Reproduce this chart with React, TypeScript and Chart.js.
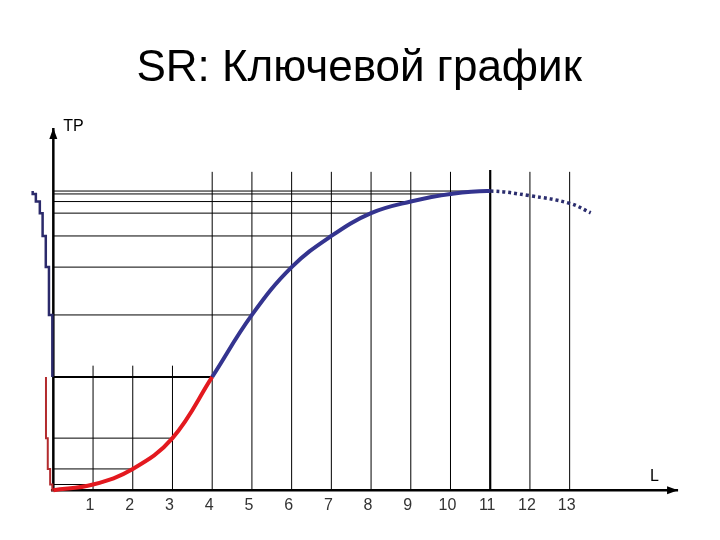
import React, { useEffect, useRef } from "react";
import { Chart, registerables } from "chart.js";

Chart.register(...registerables);

// ---- text ----
const TITLE = "SR: Ключевой график";
const Y_LABEL = "TP";
const X_LABEL = "L";

// ---- data ----
const L_VALUES = [0, 1, 2, 3, 4, 5, 6, 7, 8, 9, 10, 11];
const TP_VALUES = [0, 1.6, 5.9, 14.4, 31.3, 48.4, 61.6, 70.2, 76.5, 79.7, 81.8, 82.6];
const L_FALLING = [12, 13, 13.53];
const TP_FALLING = [81.3, 79.2, 76.6];
const L_TICKS = [1, 2, 3, 4, 5, 6, 7, 8, 9, 10, 11, 12, 13];
const GUIDE_TOPS = [34.4, 34.4, 34.4, 87.9, 87.9, 87.9, 87.9, 87.9, 87.9, 87.9, 88.4, 87.9, 87.9];
const STAIR_BLUE_X = [-0.52, -0.44, -0.34, -0.27, -0.19, -0.11, -0.025];
const STAIR_RED_X = [-0.185, -0.14, -0.08, -0.025];
const SWITCH_L = 4;
const PEAK_L = 11;
const X_MIN = -0.6;
const X_MAX = 16;
const Y_MAX = 100;
const X_AXIS_END = 15.73;
const X_LABEL_AT = 15.02;

// ---- styles ----
const RED = "#e3191f";
const BLUE = "#34348f";
const DOT_BLUE = "#2b2d6e";
const STAIR_BLUE = "#2b2a6b";
const STAIR_RED = "#b32b2e";
const FONT = '"Liberation Sans", Arial, sans-serif';

function buildCurve() {
  const pts = L_VALUES.map((l, i) => ({ x: l, y: TP_VALUES[i] }));
  L_FALLING.forEach((l, i) => pts.push({ x: l, y: TP_FALLING[i] }));
  return pts;
}

function buildVerticals() {
  const pts: any[] = [];
  L_TICKS.forEach((l, i) => {
    pts.push({ x: l, y: 0 }, { x: l, y: GUIDE_TOPS[i] }, { x: l, y: null });
  });
  return pts;
}

function buildHorizontals() {
  const pts: any[] = [];
  L_VALUES.forEach((l, i) => {
    if (l === 0) return;
    pts.push({ x: 0, y: TP_VALUES[i] }, { x: l, y: TP_VALUES[i] }, { x: l, y: null });
  });
  return pts;
}

function buildStair(xs: number[], levels: number[], closeAtOrigin: boolean) {
  const pts: any[] = [];
  xs.forEach((sx, i) => {
    pts.push({ x: sx, y: levels[i] }, { x: sx, y: levels[i + 1] });
  });
  if (closeAtOrigin) pts.push({ x: 0, y: 0 });
  return pts;
}

const blueLevels = TP_VALUES.slice(SWITCH_L).reverse();
const redLevels = TP_VALUES.slice(0, SWITCH_L + 1).reverse();

const decor = {
  id: "decor",
  afterDatasetsDraw(chart: any) {
    const { ctx, scales } = chart;
    const x = scales.x;
    const y = scales.y;
    const ox = x.getPixelForValue(0);
    const oy = y.getPixelForValue(0);
    const topY = y.getPixelForValue(Y_MAX);
    const endX = x.getPixelForValue(X_AXIS_END);
    ctx.save();
    ctx.fillStyle = "#000";
    ctx.beginPath();
    ctx.moveTo(ox, topY);
    ctx.lineTo(ox - 4, topY + 11);
    ctx.lineTo(ox + 4, topY + 11);
    ctx.closePath();
    ctx.fill();
    ctx.beginPath();
    ctx.moveTo(endX, oy);
    ctx.lineTo(endX - 11, oy - 4);
    ctx.lineTo(endX - 11, oy + 4);
    ctx.closePath();
    ctx.fill();
    ctx.font = "16px " + FONT;
    ctx.textBaseline = "alphabetic";
    ctx.textAlign = "left";
    ctx.fillText(Y_LABEL, ox + 10, topY + 3);
    ctx.fillText(X_LABEL, x.getPixelForValue(X_LABEL_AT), oy - 9);
    ctx.restore();
  },
};

export default function App() {
  const ref = useRef<HTMLCanvasElement>(null);
  useEffect(() => {
    document.body.style.margin = "0";
    const chart = new Chart(ref.current as HTMLCanvasElement, {
      type: "line",
      data: {
        datasets: [
          {
            label: "TP",
            data: buildCurve(),
            tension: 0.4,
            borderWidth: 4,
            borderColor: BLUE,
            clip: false,
            segment: {
              borderColor: (c: any) =>
                c.p0.parsed.x >= PEAK_L ? DOT_BLUE : c.p0.parsed.x >= SWITCH_L ? BLUE : RED,
              borderDash: (c: any) => (c.p0.parsed.x >= PEAK_L ? [3, 3] : undefined),
              borderWidth: (c: any) => (c.p0.parsed.x >= PEAK_L ? 3.5 : undefined),
            },
          } as any,
          {
            label: "stairBlue",
            data: buildStair(STAIR_BLUE_X, blueLevels, false),
            borderColor: STAIR_BLUE,
            borderWidth: 2.5,
            clip: false,
          },
          {
            label: "stairRed",
            data: buildStair(STAIR_RED_X, redLevels, true),
            borderColor: STAIR_RED,
            borderWidth: 2,
            clip: false,
          },
          {
            label: "axisY",
            data: [{ x: 0, y: 0 }, { x: 0, y: Y_MAX }],
            borderColor: "#000",
            borderWidth: 2.5,
            clip: false,
          },
          {
            label: "axisX",
            data: [{ x: -0.06, y: 0 }, { x: X_AXIS_END, y: 0 }],
            borderColor: "#000",
            borderWidth: 2.5,
            clip: false,
          },
          {
            label: "hLines",
            data: buildHorizontals(),
            borderColor: "#000",
            borderWidth: 1,
            clip: false,
            segment: {
              borderWidth: (c: any) => (c.p0.parsed.y === TP_VALUES[SWITCH_L] ? 2 : undefined),
            },
          } as any,
          {
            label: "vLines",
            data: buildVerticals(),
            borderColor: "#000",
            borderWidth: 1,
            clip: false,
            segment: {
              borderWidth: (c: any) => (c.p0.parsed.x === PEAK_L ? 2.2 : undefined),
            },
          } as any,
        ],
      },
      options: {
        animation: false,
        responsive: false,
        events: [],
        elements: { point: { radius: 0 }, line: { tension: 0, borderCapStyle: "butt" } },
        layout: { padding: { left: 29.5, right: 31.2, top: 0, bottom: 18.5 } },
        plugins: {
          legend: { display: false },
          tooltip: { enabled: false },
          title: {
            display: true,
            text: TITLE,
            color: "#000",
            font: { family: FONT, size: 44, weight: "normal", lineHeight: 1.2 },
            padding: { top: 42, bottom: 33.2 },
          },
        },
        scales: {
          x: {
            type: "linear",
            min: X_MIN,
            max: X_MAX,
            grid: { display: false, drawTicks: false },
            border: { display: false },
            afterBuildTicks: (s: any) => {
              s.ticks = L_TICKS.map((v) => ({ value: v }));
            },
            ticks: {
              autoSkip: false,
              maxRotation: 0,
              padding: 6,
              labelOffset: -3,
              color: "#333",
              font: { family: FONT, size: 16 },
              callback: (v: any) => String(v),
            },
          },
          y: { type: "linear", min: 0, max: Y_MAX, display: false },
        },
      } as any,
      plugins: [decor],
    });
    return () => chart.destroy();
  }, []);
  return (
    <div style={{ width: 720, height: 540, background: "#fff" }}>
      <canvas ref={ref} width={720} height={540} style={{ display: "block" }} />
    </div>
  );
}
